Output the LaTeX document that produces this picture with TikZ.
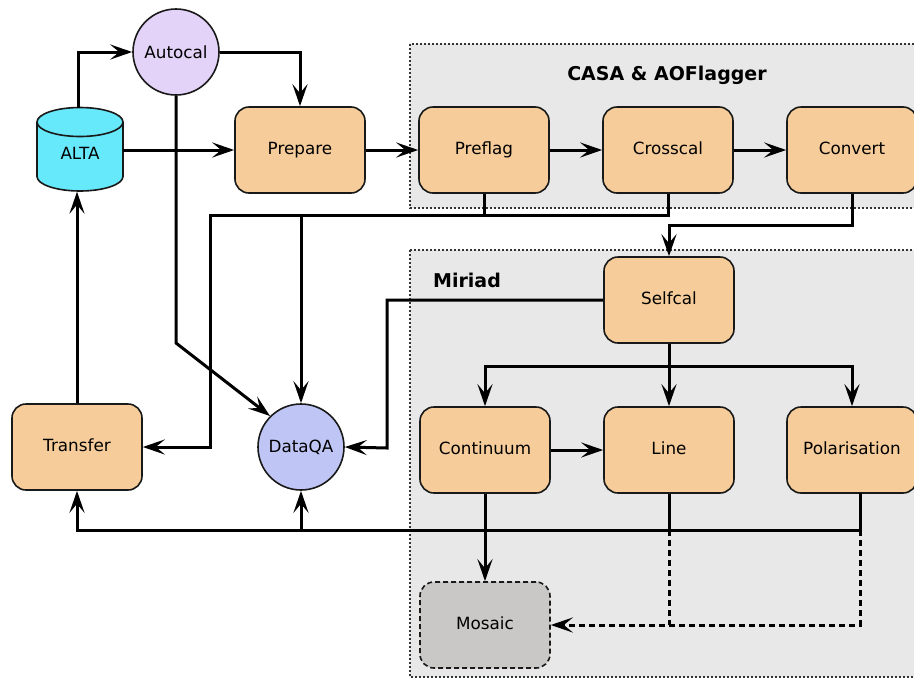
\documentclass[tikz,border=0pt]{standalone}
\usepackage{fontspec}
\setmainfont{DejaVu Sans}
\usetikzlibrary{arrows.meta,calc}
\definecolor{procfill}{HTML}{F6CD9A}
\definecolor{altafill}{HTML}{66E9FB}
\definecolor{autofill}{HTML}{E3D3F8}
\definecolor{qafill}{HTML}{BFC6F5}
\definecolor{mosfill}{HTML}{C9C8C6}
\definecolor{grpfill}{HTML}{E8E8E8}
\tikzset{
  proc/.style={draw=black!90, line width=1.6pt, fill=procfill, rounded corners=14pt,
    minimum width=130pt, minimum height=86pt, inner sep=0pt, text height=12.5pt, text depth=3.5pt,
    font=\fontsize{16.8}{20}\selectfont},
  roundnode/.style={draw=black!90, line width=1.6pt, circle, minimum size=86pt, inner sep=0pt,
    font=\fontsize{16.8}{20}\selectfont},
  grp/.style={draw=black!80, fill=grpfill, line width=1.3pt, dash pattern=on 2pt off 2pt},
  grptitle/.style={font=\fontsize{19}{22}\selectfont\bfseries},
  conn/.style={line width=3pt, -{Stealth[length=22pt,width=15pt,inset=9pt]}},
  plainconn/.style={line width=3pt},
  dconn/.style={line width=3pt, dash pattern=on 6pt off 4pt, -{Stealth[length=22pt,width=15pt,inset=9pt]}},
  dplain/.style={line width=3pt, dash pattern=on 6pt off 4pt}
}
\begin{document}
\begin{tikzpicture}[x=1pt,y=-1pt]
\useasboundingbox (0,0) rectangle (914,678);
% groups
\draw[grp] (410,44) rectangle (930,208);
\draw[grp] (410,250) rectangle (930,677);
\node[grptitle] (casat) at (667,75) {CASA \& AOFlagger};
\node[grptitle] (miriadt) at (467,280) {Miriad};
% ALTA cylinder
\node[minimum width=86pt, minimum height=83pt, inner sep=0pt] (ALTA) at (80,150) {};
\fill[altafill] (37,122) -- (37,176.5) arc[start angle=180, end angle=360, x radius=43pt, y radius=14.5pt] -- (123,122) arc[start angle=0, end angle=180, x radius=43pt, y radius=14.5pt] -- cycle;
\draw[line width=1.6pt, black!90] (37,122) -- (37,176.5) arc[start angle=180, end angle=360, x radius=43pt, y radius=14.5pt] -- (123,122);
\draw[line width=1.6pt, black!90] (80,122) ellipse[x radius=43pt, y radius=14.5pt];
\node[font=\fontsize{16.8}{20}\selectfont] (altatext) at (80,153) {ALTA};
% nodes
\node[roundnode, fill=autofill] (Autocal) at (176,52) {Autocal};
\node[proc] (Prepare) at (300,150) {Prepare};
\node[proc] (Preflag) at (484,150) {Preflag};
\node[proc] (Crosscal) at (668,150) {Crosscal};
\node[proc] (Convert) at (852,150) {Convert};
\node[proc] (Selfcal) at (669,300) {Selfcal};
\node[proc] (Continuum) at (485,450) {Continuum};
\node[proc] (Line) at (669,450) {Line};
\node[proc] (Polarisation) at (852,450) {Polarisation};
\node[proc, fill=mosfill, dash pattern=on 5pt off 3pt] (Mosaic) at (485,625) {Mosaic};
\node[proc] (Transfer) at (77,447) {Transfer};
\node[roundnode, fill=qafill] (DataQA) at (301,447) {DataQA};
% coordinates
\coordinate (h1) at (210,215);
\coordinate (s1) at (387,448);
\coordinate (bb) at (0,530);
\coordinate (pb) at (860,493);
% connectors
\draw[conn] (ALTA.north -| 78,0) |- (Autocal.west);
\draw[conn] (Transfer.north) -- (Transfer.north |- ALTA.south);
\draw[conn] (Autocal.east) -| (Prepare.north);
\draw[conn] (ALTA.east) -- (Prepare.west);
\draw[conn] (Prepare.east) -- (Preflag.west);
\draw[conn] (Preflag.east) -- (Crosscal.west);
\draw[conn] (Crosscal.east) -- (Convert.west);
\draw[conn] (Autocal.south) -- (176,343) -- (DataQA.north west);
\draw[plainconn] (Preflag.south) -- (Preflag.south |- h1);
\draw[conn] (Crosscal.south) |- (h1) |- (Transfer.east);
\draw[conn] (DataQA.north |- h1) -- (DataQA.north);
\draw[conn] (Convert.south) -- ++(0,32) -| (Selfcal.north);
\draw[conn] (Selfcal.west) -| (s1) -- (DataQA.east);
\draw[conn] (Selfcal.south) -- (Line.north);
\draw[conn] (Selfcal.south) -- ++(0,23) -| (Continuum.north);
\draw[conn] (Selfcal.south) -- ++(0,23) -| (Polarisation.north);
\draw[conn] (Continuum.east) -- (Line.west);
\draw[conn] (Continuum.south) -- (Mosaic.north);
\draw[conn] (pb) |- (Transfer.south |- bb) -- (Transfer.south);
\draw[plainconn] (Line.south) -- (Line.south |- bb);
\draw[conn] (DataQA.south |- bb) -- (DataQA.south);
\draw[dplain] (Line.south |- bb) -- (Line.south |- Mosaic.east);
\draw[dconn] (pb |- bb) |- (Mosaic.east);
\end{tikzpicture}
\end{document}
